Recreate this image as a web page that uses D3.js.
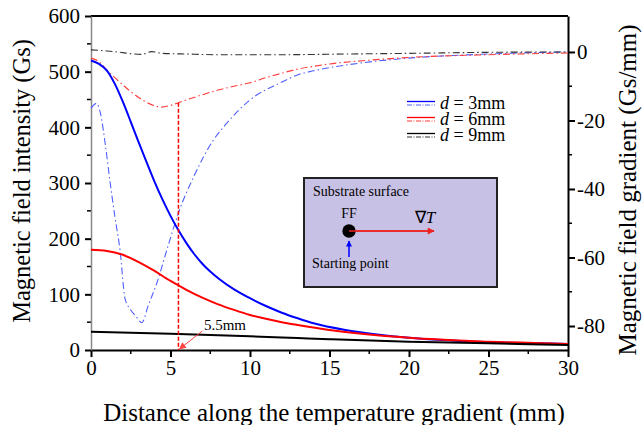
<!DOCTYPE html>
<html>
<head>
<meta charset="utf-8">
<script src="https://cdn.jsdelivr.net/npm/d3@7"></script>
<style>
  body { margin: 0; background: #fff; }
  text { font-family: "Liberation Serif", "Times New Roman", serif; }
</style>
</head>
<body>
<div id="chart"></div>
<script>
// data
var xTicks = [0, 5, 10, 15, 20, 25, 30];
var leftTicks = [0, 100, 200, 300, 400, 500, 600];
var rightTicks = [0, -20, -40, -60, -80];

// field intensity (Gs), left axis
var dist3 = [0, 0.5, 1, 1.5, 2, 2.5, 3, 3.5, 4, 4.5, 5, 5.5, 6, 6.5, 7, 7.5, 8, 9, 10, 11, 12, 13, 14, 16, 18, 20, 25, 30];
var field3 = [520, 514, 502, 478, 446, 410, 373, 337, 302, 270, 241, 215, 192, 172, 155, 141, 129, 109, 93, 79, 67, 57, 48, 36, 28, 22, 14, 11];
var dist6 = [0, 1, 2, 3, 4, 5, 5.5, 6, 7, 8, 9, 10, 11, 12, 13, 15, 20, 25, 30];
var field6 = [180, 178, 171, 158, 142, 124, 116, 108, 94, 82, 72, 63, 56, 50, 45, 36, 22, 15, 11];
var dist9 = [0, 5, 10, 13, 15, 20, 25, 30];
var field9 = [33, 29, 24.5, 21.5, 19.5, 15, 12, 9];

// field gradient (Gs/mm), right axis
var gdist3 = [0, 0.35, 0.6, 0.9, 1.2, 1.5, 1.83, 2.14, 2.45, 2.8, 3.2, 3.6, 4.13, 4.86, 5.5, 6.5, 7.7, 8.5, 10, 12, 13.1, 14, 17, 20, 25, 30];
var grad3 = [-16.4, -15, -18, -27, -38, -48, -58, -72, -75, -77, -79, -74, -67.6, -56.4, -47, -36, -25.7, -21, -14, -8.8, -6.5, -5.5, -3.2, -1.8, -0.6, 0];
var gdist6 = [0, 0.5, 1, 1.5, 2, 2.5, 3, 3.5, 4, 4.4, 5, 5.5, 6, 7, 8, 9, 10, 11, 12, 13, 14, 15, 17.5, 20, 25, 30];
var grad6 = [-1.8, -2.8, -5.3, -7.5, -9.6, -11.6, -13.3, -14.7, -15.7, -16.1, -15.6, -14.8, -14, -12.5, -11.1, -10, -9, -7.5, -6.2, -5, -4.2, -3.5, -2.4, -1.6, -0.8, -0.3];
var gdist9 = [0, 1, 2, 2.7, 3.2, 3.8, 4.5, 6, 8, 12, 16, 20, 25, 30];
var grad9 = [0.6, 0.3, -0.2, -0.6, -0.7, 0.1, -0.4, -0.6, -0.8, -0.8, -0.6, -0.4, -0.1, 0];

var legendLabels = ["3mm", "6mm", "9mm"];
var colors = ["#0000ff", "#ff0000", "#000000"];
var dashColors = ["#5060ff", "#ff3a3a", "#333333"];

// set the dimensions and margins of the graph
var margin = {top: 16, right: 75, bottom: 75, left: 91},
    width = 568 - margin.left,
    height = 350 - margin.top;

var svg = d3.select("#chart")
  .append("svg")
    .attr("width", 643)
    .attr("height", 425)
  .append("g")
    .attr("transform", "translate(" + margin.left + "," + margin.top + ")");

var x = d3.scaleLinear().domain([0, 30]).range([0, width]);
var yL = d3.scaleLinear().domain([0, 600]).range([height, 0]);
var yR = d3.scaleLinear().domain([-87, 10.5]).range([height, 0]);

// frame top
svg.append("line")
  .attr("x1", 0).attr("x2", width).attr("y1", 0).attr("y2", 0)
  .attr("stroke", "#000").attr("stroke-width", 2);

// minor ticks
svg.selectAll(".mx").data(d3.range(2.5, 30, 5)).join("line")
  .attr("x1", d => x(d)).attr("x2", d => x(d))
  .attr("y1", height).attr("y2", height + 4)
  .attr("stroke", "#000").attr("stroke-width", 1.5);
svg.selectAll(".ml").data(d3.range(50, 600, 100)).join("line")
  .attr("x1", 0).attr("x2", -4)
  .attr("y1", d => yL(d)).attr("y2", d => yL(d))
  .attr("stroke", "#000").attr("stroke-width", 1.5);
svg.selectAll(".mr").data([-10, -30, -50, -70]).join("line")
  .attr("x1", width).attr("x2", width + 4)
  .attr("y1", d => yR(d)).attr("y2", d => yR(d))
  .attr("stroke", "#000").attr("stroke-width", 1.5);

// axes
var xAxis = svg.append("g")
  .attr("transform", "translate(0," + height + ")")
  .call(d3.axisBottom(x).tickValues(xTicks).tickSize(7).tickSizeOuter(0).tickPadding(3));
var yAxisL = svg.append("g")
  .call(d3.axisLeft(yL).tickValues(leftTicks).tickSize(6).tickSizeOuter(0).tickPadding(5));
var yAxisR = svg.append("g")
  .attr("transform", "translate(" + width + ",0)")
  .call(d3.axisRight(yR).tickValues(rightTicks).tickSize(7).tickSizeOuter(0).tickPadding(2));

[xAxis, yAxisL, yAxisR].forEach(function(a) {
  a.selectAll("text").attr("font-size", 21).attr("fill", "#000")
    .style("font-family", "Liberation Serif");
  a.selectAll("line").attr("stroke-width", 2);
  a.select(".domain").attr("stroke-width", 2);
});
yAxisL.select(".domain").attr("stroke", "#888").attr("stroke-width", 1.5);
yAxisR.selectAll("text").text(d => String(d));

// axis titles
svg.append("text")
  .attr("transform", "translate(" + (-61) + "," + (height / 2 - 2) + ") rotate(-90)")
  .attr("text-anchor", "middle").attr("font-size", 24.5)
  .text("Magnetic field intensity (Gs)");
svg.append("text")
  .attr("transform", "translate(" + (width + 68) + "," + (height / 2 + 7) + ") rotate(-90)")
  .attr("text-anchor", "middle").attr("font-size", 25)
  .text("Magnetic field gradient (Gs/mm)");
svg.append("text")
  .attr("x", 243).attr("y", height + 71)
  .attr("text-anchor", "middle").attr("font-size", 25)
  .text("Distance along the temperature gradient (mm)");

// lines
var lineL = d3.line().x(d => x(d[0])).y(d => yL(d[1])).curve(d3.curveMonotoneX);
var lineR = d3.line().x(d => x(d[0])).y(d => yR(d[1])).curve(d3.curveMonotoneX);

var fieldSets = [d3.zip(dist3, field3), d3.zip(dist6, field6), d3.zip(dist9, field9)];
var gradSets = [d3.zip(gdist3, grad3), d3.zip(gdist6, grad6), d3.zip(gdist9, grad9)];

svg.selectAll(".grad").data(gradSets).join("path")
  .attr("class", "grad")
  .attr("d", lineR)
  .attr("fill", "none")
  .attr("stroke", (d, i) => dashColors[i])
  .attr("stroke-width", 1.1)
  .attr("stroke-dasharray", "7,3,1.5,3");

svg.selectAll(".field").data(fieldSets).join("path")
  .attr("class", "field")
  .attr("d", lineL)
  .attr("fill", "none")
  .attr("stroke", (d, i) => colors[i])
  .attr("stroke-width", 2);

// 5.5mm marker
var markX = 5.5;
svg.append("line")
  .attr("x1", x(markX)).attr("x2", x(markX))
  .attr("y1", yR(-14.8)).attr("y2", height)
  .attr("stroke", "#ff0000").attr("stroke-width", 1.5)
  .attr("stroke-dasharray", "4,2");

var defs = svg.append("defs");
function arrowHead(id, color, w, h) {
  defs.append("marker")
    .attr("id", id).attr("viewBox", "0 0 10 10")
    .attr("refX", 9).attr("refY", 5)
    .attr("markerWidth", w).attr("markerHeight", h)
    .attr("markerUnits", "userSpaceOnUse")
    .attr("orient", "auto")
    .append("path").attr("d", "M0,0 L10,5 L0,10 z").attr("fill", color);
}
arrowHead("arrRed", "#ff4444", 9, 7);
arrowHead("arrRedBig", "#ee2222", 15, 7);
arrowHead("arrBlue", "#0000ff", 7, 6);

svg.append("line")
  .attr("x1", x(7.0)).attr("x2", x(markX) + 1)
  .attr("y1", yL(34)).attr("y2", height - 1)
  .attr("stroke", "#ff4444").attr("stroke-width", 1)
  .attr("marker-end", "url(#arrRed)");
svg.append("text")
  .attr("x", x(7.1)).attr("y", yL(36))
  .attr("font-size", 15)
  .text("5.5mm");

// legend
var leg = svg.append("g").attr("transform", "translate(316,88)");
legendLabels.forEach(function(lab, i) {
  var g = leg.append("g").attr("transform", "translate(0," + (i * 16) + ")");
  g.append("line").attr("x1", 0).attr("x2", 28).attr("y1", -2.5).attr("y2", -2.5)
    .attr("stroke", colors[i]).attr("stroke-width", 1.3);
  g.append("line").attr("x1", 0).attr("x2", 28).attr("y1", 1).attr("y2", 1)
    .attr("stroke", dashColors[i]).attr("stroke-width", 1)
    .attr("stroke-dasharray", "5,1.5,1,1.5");
  var t = g.append("text").attr("x", 33).attr("y", 5).attr("font-size", 18);
  t.append("tspan").attr("font-style", "italic").text("d");
  t.append("tspan").text(" = " + lab);
});

// inset
var inset = svg.append("g").attr("transform", "translate(" + (304 - margin.left) + "," + (178 - margin.top) + ")");
inset.append("rect")
  .attr("width", 193).attr("height", 109)
  .attr("fill", "#c8c1e6").attr("stroke", "#222").attr("stroke-width", 2);
inset.append("text").attr("x", 9).attr("y", 18).attr("font-size", 14)
  .text("Substrate surface");
inset.append("text").attr("x", 45).attr("y", 40).attr("text-anchor", "middle")
  .attr("font-size", 14).text("FF");
inset.append("line").attr("x1", 45).attr("x2", 130).attr("y1", 53).attr("y2", 53)
  .attr("stroke", "#ee2222").attr("stroke-width", 1.6)
  .attr("marker-end", "url(#arrRedBig)");
inset.append("circle").attr("cx", 45).attr("cy", 53).attr("r", 6.7).attr("fill", "#000");
inset.append("line").attr("x1", 45).attr("x2", 130).attr("y1", 53).attr("y2", 53)
  .attr("stroke", "#ee2222").attr("stroke-width", 1.6);
inset.append("line").attr("x1", 45).attr("x2", 45).attr("y1", 79).attr("y2", 63)
  .attr("stroke", "#0000ff").attr("stroke-width", 1.5)
  .attr("marker-end", "url(#arrBlue)");
var nt = inset.append("text").attr("x", 121).attr("y", 45).attr("text-anchor", "middle")
  .attr("font-size", 17);
nt.append("tspan").text("\u2207");
nt.append("tspan").attr("font-style", "italic").text("T");
inset.append("text").attr("x", 8).attr("y", 90).attr("font-size", 14)
  .text("Starting point");
</script>
</body>
</html>
